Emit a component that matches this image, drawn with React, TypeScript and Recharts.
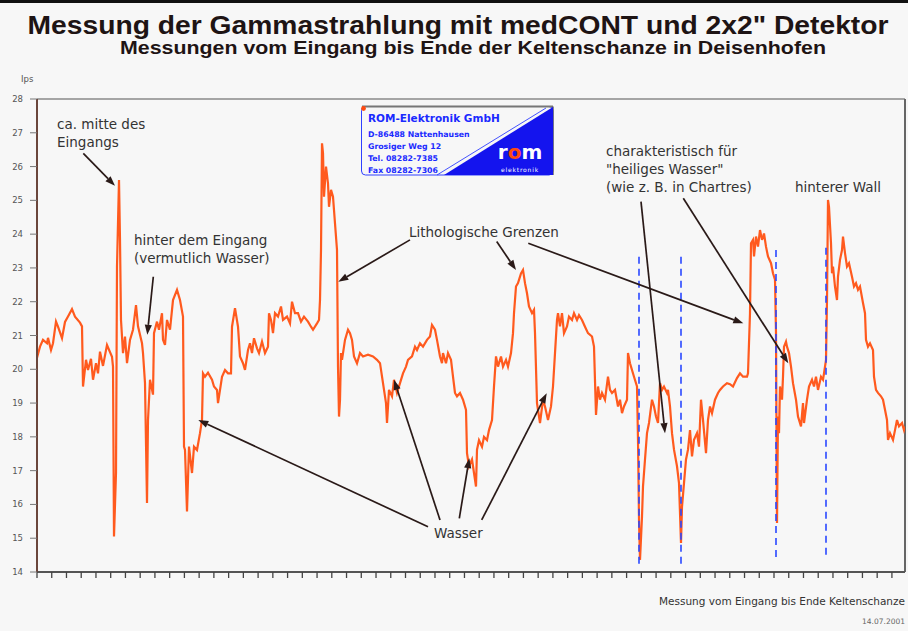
import React from 'react';
import { LineChart, Line, XAxis, YAxis, ReferenceLine } from 'recharts';

// Position along the walk (sample index)
const sampleIndex = [
  0, 3, 6, 10, 11, 14, 16, 19, 21, 25, 28, 31, 35, 38, 43, 45, 46, 49, 51, 54, 56, 59, 61, 63, 66, 70, 75, 76, 77, 79, 80, 82, 83, 84, 86, 88, 90, 93, 96, 99,
  101, 105, 106, 108, 110, 111, 113, 115, 116, 117, 120, 122, 125, 126, 128, 130, 133, 136, 140, 143, 146, 147, 148, 150, 152, 155, 157, 160, 163, 165, 166, 168, 171, 175, 177, 180, 181, 185, 188, 191,
  194, 195, 198, 201, 203, 206, 208, 211, 213, 215, 217, 220, 222, 225, 228, 231, 232, 234, 236, 238, 241, 244, 246, 250, 253, 255, 258, 261, 264, 267, 271, 274, 276, 280, 282, 283, 284, 285, 286, 287,
  289, 291, 292, 294, 296, 298, 300, 301, 302, 303, 304, 305, 308, 311, 313, 315, 317, 320, 323, 326, 331, 336, 340, 343, 346, 349, 350, 352, 355, 357, 360, 363, 366, 369, 371, 375, 378, 380, 383, 386,
  390, 393, 395, 398, 400, 403, 405, 406, 409, 411, 414, 416, 418, 420, 423, 426, 429, 430, 432, 435, 437, 439, 440, 442, 445, 447, 450, 452, 455, 457, 459, 461, 464, 466, 469, 471, 474, 476, 477, 479,
  481, 484, 486, 488, 490, 492, 495, 497, 498, 500, 501, 503, 506, 508, 511, 514, 516, 518, 520, 521, 523, 525, 527, 530, 532, 535, 537, 540, 542, 545, 548, 551, 555, 557, 559, 561, 563, 565, 568, 571,
  573, 575, 578, 581, 583, 585, 587, 590, 591, 593, 595, 597, 600, 601, 602, 603, 605, 606, 608, 610, 612, 615, 617, 619, 621, 623, 625, 627, 630, 631, 633, 635, 637, 640, 642, 644, 645, 647, 649, 651,
  653, 655, 657, 660, 662, 664, 666, 669, 671, 673, 675, 678, 681, 683, 686, 690, 693, 696, 700, 703, 706, 710, 711, 713, 714, 716, 717, 719, 721, 723, 725, 727, 729, 731, 734, 736, 738, 739, 740, 741,
  742, 743, 745, 746, 747, 749, 750, 752, 754, 756, 759, 761, 764, 766, 767, 770, 772, 775, 777, 779, 781, 784, 786, 787, 789, 790, 791, 792, 794, 795, 796, 798, 800, 801, 803, 805, 806, 808, 810, 812,
  815, 817, 819, 821, 823, 826, 828, 829, 831, 833, 836, 837, 839, 841, 844, 846, 848, 850, 851, 853, 856, 858, 860, 862, 865, 867, 868,
];

// Impulses per second (Ips)
const countRate = [
  20.34, 20.67, 20.87, 20.77, 20.93, 20.57, 20.77, 21.41, 21.26, 20.92, 21.4, 21.56, 21.78, 21.56, 21.38, 21.27, 19.49, 20.28, 19.98, 20.31, 19.69, 20.18, 19.88, 20.52, 20.1, 20.72, 20.37, 20.08, 15.05, 16.93, 23.04, 25.6, 23.83, 21.46, 20.48, 20.97, 20.18, 20.87, 21.17, 21.9,
  21.27, 20.77, 20.48, 19.59, 16.04, 18.5, 19.69, 19.4, 19.25, 21.07, 21.41, 21.17, 21.66, 20.87, 20.72, 21.46, 21.17, 22.05, 22.35, 22.05, 21.56, 17.71, 17.61, 15.79, 17.71, 16.93, 17.71, 17.61, 18.11, 18.5, 19.88, 19.78, 19.9, 19.69, 19.49, 19.39, 19.0, 19.78, 19.98, 19.88,
  19.88, 21.26, 21.81, 21.26, 20.38, 20.18, 19.98, 20.57, 20.77, 20.48, 20.92, 20.62, 20.48, 20.82, 20.48, 20.67, 21.66, 21.46, 21.07, 21.66, 21.56, 21.86, 21.46, 21.56, 21.36, 22.0, 21.66, 21.66, 21.41, 21.56, 21.41, 21.26, 21.17, 21.36, 21.46, 22.05, 23.53, 26.69, 26.4, 25.11,
  26.0, 25.5, 24.81, 25.31, 25.11, 24.32, 23.53, 20.08, 18.6, 19.09, 20.48, 20.28, 20.87, 21.17, 21.07, 20.87, 20.38, 20.18, 20.48, 20.38, 20.43, 20.38, 20.28, 20.18, 19.59, 19.0, 18.41, 19.39, 19.2, 19.69, 19.3, 19.59, 19.88, 20.08, 20.28, 20.38, 20.67, 20.57, 20.77, 20.67,
  20.87, 20.97, 21.31, 21.17, 20.87, 20.38, 20.18, 20.48, 20.18, 20.48, 20.28, 19.78, 19.3, 19.2, 19.3, 19.1, 18.8, 17.52, 17.13, 17.33, 16.93, 16.53, 17.62, 17.9, 17.71, 18.0, 17.9, 18.2, 18.5, 19.49, 20.38, 20.08, 20.38, 20.08, 20.28, 20.08, 20.48, 21.07, 21.66, 22.45,
  22.55, 22.84, 22.94, 22.55, 22.25, 21.86, 21.66, 21.76, 21.07, 19.0, 18.8, 18.41, 19.1, 18.9, 18.5, 18.9, 19.49, 20.48, 21.46, 21.66, 21.27, 21.66, 21.07, 21.27, 21.56, 21.46, 21.66, 21.46, 21.6, 21.46, 21.26, 21.07, 20.97, 20.67, 18.65, 19.49, 19.1, 19.3, 19.1, 19.78,
  19.39, 19.3, 19.39, 18.9, 19.1, 18.7, 18.9, 19.1, 20.48, 20.18, 19.98, 19.78, 19.49, 17.91, 15.54, 14.36, 15.64, 16.53, 17.33, 18.11, 18.41, 19.1, 18.9, 18.6, 18.41, 19.59, 19.39, 19.49, 19.3, 19.39, 18.9, 18.11, 17.62, 17.13, 16.63, 14.86, 15.93, 16.63, 17.33, 17.62,
  18.2, 17.42, 17.91, 18.11, 17.71, 19.1, 18.5, 17.52, 18.5, 18.9, 18.7, 19.1, 19.3, 19.39, 19.49, 19.59, 19.56, 19.49, 19.74, 19.88, 19.78, 19.78, 19.88, 21.66, 23.73, 23.83, 23.34, 23.93, 23.63, 24.12, 23.83, 24.02, 23.63, 23.34, 23.14, 22.84, 22.65, 21.07, 15.45, 18.6,
  18.11, 19.49, 19.1, 19.78, 20.67, 20.82, 20.67, 20.48, 20.08, 19.59, 19.1, 18.6, 18.31, 19.0, 18.41, 19.1, 19.49, 19.69, 19.49, 19.78, 19.39, 19.78, 19.69, 19.88, 20.28, 22.05, 25.01, 24.81, 23.73, 22.84, 23.04, 22.45, 22.05, 22.74, 23.24, 23.53, 23.93, 23.44, 23.04, 23.14,
  22.74, 22.45, 22.55, 22.35, 22.45, 21.96, 21.66, 20.87, 20.67, 20.77, 20.57, 19.78, 19.39, 19.3, 19.2, 19.1, 18.8, 18.5, 17.91, 18.11, 17.91, 18.2, 18.5, 18.31, 18.41, 18.2, 18.31,
];

const yTicks = [14, 15, 16, 17, 18, 19, 20, 21, 22, 23, 24, 25, 26, 27, 28];
const xTickCount = 59;
const xTickStep = 14.74;
const xDomainEnd = 868;

// blue dashed markers: sample index, top value, bottom value
const markerX = [602, 644, 739, 789];
const markerTop = [23.33, 23.33, 23.53, 23.6];
const markerBottom = [14.16, 14.16, 14.36, 14.42];

// annotation arrows (data coordinates): [x1, y1, x2, y2]
const arrowSegments = [
  [46.3, 26.39, 78, 25.43],
  [116.3, 22.74, 110.3, 21.02],
  [373, 23.83, 301.3, 22.59],
  [459.7, 23.78, 479, 22.94],
  [491.3, 23.73, 706.3, 21.36],
  [391, 15.34, 161.3, 18.5],
  [403, 15.54, 357, 19.69],
  [422.3, 15.59, 432.3, 17.37],
  [444.7, 15.54, 509.7, 19.29],
  [604, 24.96, 628, 18.11],
  [646.3, 25.06, 751.3, 20.18],
];

const titleText = 'Messung der Gammastrahlung mit medCONT und 2x2" Detektor';
const subtitleText = 'Messungen vom Eingang bis Ende der Keltenschanze in Deisenhofen';
const unitLabel = 'Ips';
const xAxisLabel = 'Messung vom Eingang bis Ende Keltenschanze';
const dateLabel = '14.07.2001';
const annotationTexts = [
  'ca. mitte des', 'Eingangs', 'hinter dem Eingang', '(vermutlich Wasser)', 'Lithologische Grenzen', 'Wasser',
  'charakteristisch für', '"heiliges Wasser"', '(wie z. B. in Chartres)', 'hinterer Wall',
];
const annotationLeft = [57, 57, 134, 134, 409, 434, 606, 606, 606, 795];
const annotationMidY = [124, 142, 240, 258, 232, 533, 151, 169, 187, 187];
const logoLines = ['D-86488 Nattenhausen', 'Grosiger Weg 12', 'Tel. 08282-7385', 'Fax 08282-7306'];

const data = sampleIndex.map((x, i) => ({ x, cps: countRate[i] }));
const xTicks = Array.from({ length: xTickCount }, (_, i) => i * xTickStep);

const ArrowShape = (props: any) => {
  const { x1, y1, x2, y2 } = props;
  if ([x1, y1, x2, y2].some((v) => typeof v !== 'number' || isNaN(v))) return null;
  const dx = x2 - x1;
  const dy = y2 - y1;
  const len = Math.hypot(dx, dy) || 1;
  const ux = dx / len;
  const uy = dy / len;
  const hl = 10;
  const hw = 3.6;
  const bx = x2 - ux * hl;
  const by = y2 - uy * hl;
  const pts = `${x2},${y2} ${bx - uy * hw},${by + ux * hw} ${bx + uy * hw},${by - ux * hw}`;
  return (
    <g>
      <line x1={x1} y1={y1} x2={bx} y2={by} stroke="#2a1a18" strokeWidth={1.7} />
      <polygon points={pts} fill="#2a1a18" />
    </g>
  );
};

const textFont = '"DejaVu Sans", sans-serif';

const Logo = () => (
  <svg width={198} height={76} style={{ position: 'absolute', left: 360, top: 105 }}>
    <rect x={1.5} y={1.5} width={191.5} height={68.5} rx={4} fill="#f7f7f7" stroke="#3040ff" strokeWidth={1} />
    <line x1={2} y1={1.5} x2={193} y2={1.5} stroke="#777" strokeWidth={2} />
    <line x1={193} y1={1.5} x2={193} y2={70} stroke="#666" strokeWidth={1.5} />
    <polygon points="84,70 193,2 193,70" fill="#1414ee" />
    <line x1={77} y1={70} x2={186} y2={3} stroke="#3040ff" strokeWidth={0.9} />
    <circle cx={3.5} cy={3.5} r={2.4} fill="#ff4a10" />
    <text x={8} y={16.5} fontFamily={textFont} fontSize={10.5} fontWeight="bold" fill="#1a2aff">ROM-Elektronik GmbH</text>
    {logoLines.map((t, i) => (
      <text key={t} x={8} y={31.5 + i * 12.3} fontFamily={textFont} fontSize={7.8} fontWeight="bold" fill="#1a2aff">{t}</text>
    ))}
    <text x={160} y={54} textAnchor="middle" fontFamily={textFont} fontSize={20} fontWeight="bold" fill="#ffffff">
      r<tspan fill="#ff4a10">o</tspan>m
    </text>
    <text x={160} y={66.5} textAnchor="middle" fontFamily={textFont} fontSize={6} letterSpacing={0.8} fill="#ffffff">elektronik</text>
  </svg>
);

export default function App() {
  return (
    <div
      style={{
        position: 'fixed',
        left: 0,
        top: 0,
        width: 908,
        height: 631,
        background: '#f7f7f7',
        overflow: 'hidden',
        fontFamily: textFont,
      }}
    >
      <div style={{ position: 'absolute', left: 0, top: 0, width: 908, height: 3, background: '#111' }} />
      <LineChart width={908} height={631} data={data} margin={{ top: 99, right: 3, left: 7, bottom: 29 }}>
        <XAxis
          type="number"
          dataKey="x"
          domain={[0, xDomainEnd]}
          ticks={xTicks}
          interval={0}
          tickFormatter={() => ''}
          tickSize={6}
          height={30}
          axisLine={{ stroke: '#555', strokeWidth: 2 }}
          tickLine={{ stroke: '#444', strokeWidth: 1.3 }}
          allowDataOverflow
        />
        <YAxis
          type="number"
          domain={[14, 28]}
          ticks={yTicks}
          interval={0}
          width={30}
          tickSize={7}
          tickMargin={7}
          axisLine={{ stroke: '#6b463c', strokeWidth: 2 }}
          tickLine={{ stroke: '#777', strokeWidth: 1 }}
          tick={{ fill: '#555', fontSize: 8.5, fontFamily: textFont }}
          allowDataOverflow
        />
        <ReferenceLine y={28} stroke="#8a8a8a" strokeWidth={1.5} />
        <ReferenceLine x={xDomainEnd} stroke="#666" strokeWidth={2} />
        <Line
          type="linear"
          dataKey="cps"
          stroke="#ff5a1e"
          strokeWidth={2.2}
          dot={false}
          isAnimationActive={false}
        />
        {markerX.map((mx, i) => (
          <ReferenceLine
            key={'m' + i}
            segment={[{ x: mx, y: markerTop[i] }, { x: mx, y: markerBottom[i] }]}
            stroke="#2a48ff"
            strokeWidth={1.6}
            strokeDasharray="7 5"
          />
        ))}
        {arrowSegments.map((s, i) => (
          <ReferenceLine
            key={'a' + i}
            segment={[{ x: s[0], y: s[1] }, { x: s[2], y: s[3] }]}
            shape={ArrowShape}
            ifOverflow="visible"
          />
        ))}
      </LineChart>

      <div
        style={{
          position: 'absolute', left: 0, width: 916, top: 10, textAlign: 'center',
          fontFamily: '"Liberation Sans", Arial, sans-serif', fontWeight: 'bold', fontSize: 25, lineHeight: '30px',
          color: '#1e1414', whiteSpace: 'nowrap', transform: 'scaleX(1.13)', transformOrigin: '458px 15px',
        }}
      >
        {titleText}
      </div>
      <div
        style={{
          position: 'absolute', left: 0, width: 946, top: 37, textAlign: 'center',
          fontFamily: '"Liberation Sans", Arial, sans-serif', fontWeight: 'bold', fontSize: 17.5, lineHeight: '22px',
          color: '#1e1414', whiteSpace: 'nowrap', transform: 'scaleX(1.22)', transformOrigin: '473px 11px',
        }}
      >
        {subtitleText}
      </div>
      <div style={{ position: 'absolute', left: 21, top: 73, fontSize: 8.5, color: '#555', lineHeight: '12px' }}>{unitLabel}</div>

      {annotationTexts.map((t, i) => (
        <div
          key={t}
          style={{
            position: 'absolute', left: annotationLeft[i], top: annotationMidY[i] - 9, lineHeight: '18px',
            fontSize: 13.5, color: '#333', whiteSpace: 'nowrap',
          }}
        >
          {t}
        </div>
      ))}

      <Logo />

      <div style={{ position: 'absolute', right: 3, top: 593, fontSize: 10.5, color: '#333', lineHeight: '16px', whiteSpace: 'nowrap' }}>{xAxisLabel}</div>
      <div style={{ position: 'absolute', right: 3, top: 616, fontSize: 7.5, color: '#666', lineHeight: '12px' }}>{dateLabel}</div>
    </div>
  );
}
